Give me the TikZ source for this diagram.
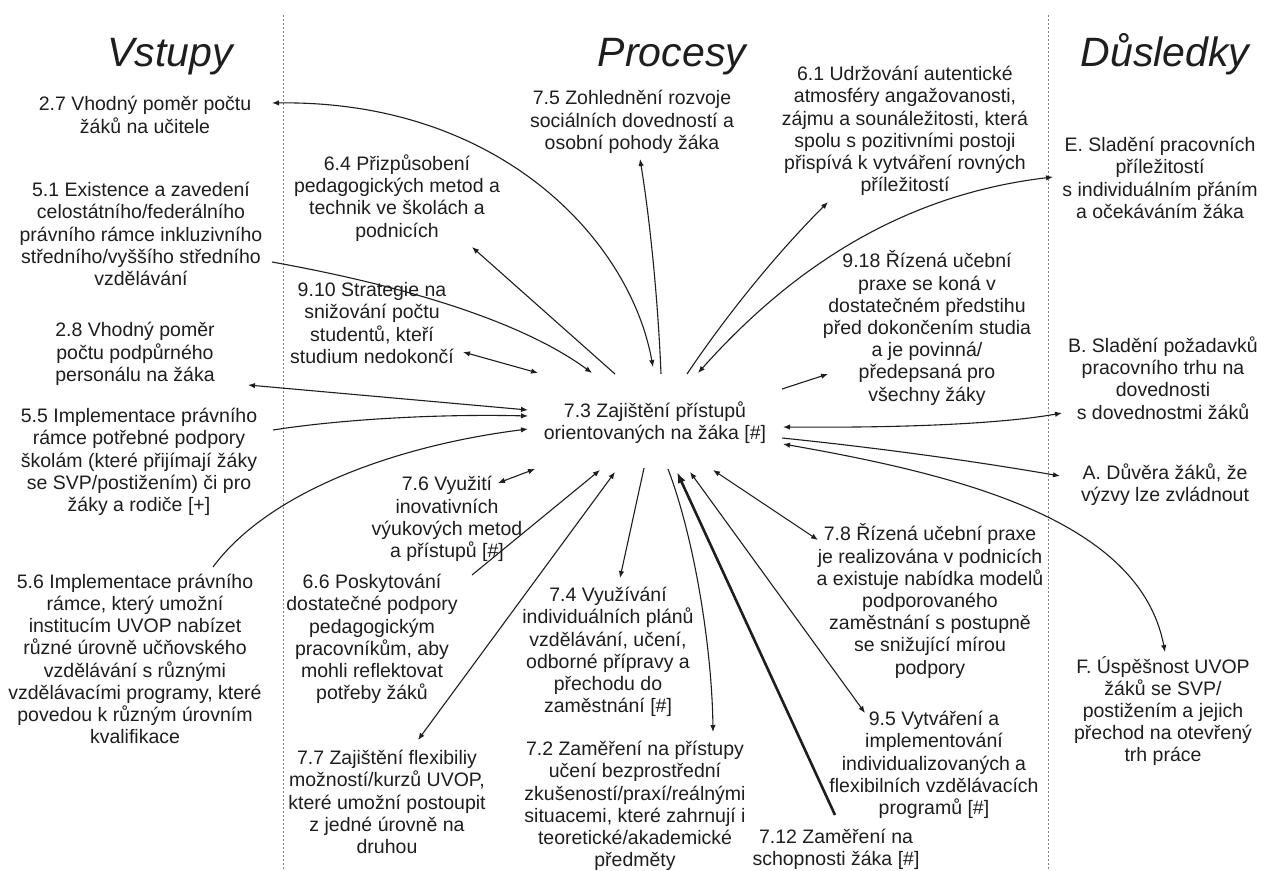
\documentclass[tikz,border=0pt]{standalone}
\usepackage{fontspec}
\setmainfont{Liberation Sans}
\usetikzlibrary{arrows.meta}
\definecolor{ink}{HTML}{1E1E1E}
\newcommand\dfbody{\fontsize{19.5}{22.2}\selectfont}
\newcommand\dftitle{\fontsize{41}{48}\selectfont\itshape}
\begin{document}
\begin{tikzpicture}[x=1pt,y=-1pt,
  txt/.style={align=center, font=\dfbody, inner sep=0pt, text=ink},
  ttl/.style={font=\dftitle, anchor=base, text=ink},
  link/.style={line width=1.1pt, draw=ink},
  onehead/.style={link, -{Latex[length=7pt,width=5.5pt]}},
  twohead/.style={link, {Latex[length=7pt,width=5.5pt]}-{Latex[length=7pt,width=5.5pt]}},
  heavy/.style={line width=2.6pt, draw=ink, -{Latex[length=11pt,width=8pt]}},
  divider/.style={draw=gray, line width=1pt, dash pattern=on 2pt off 2pt}]
\useasboundingbox[fill=white] (0,0) rectangle (1266,870);

% column dividers
\coordinate (d1t) at (283,15);  \coordinate (d1b) at (283,870);
\coordinate (d2t) at (1048,15); \coordinate (d2b) at (1048,870);
\draw[divider] (d1t) -- (d1b);
\draw[divider] (d2t) -- (d2b);

% column headings
\node[ttl] (hin)  at (170,66)  {Vstupy};
\node[ttl] (hpr)  at (672,66)  {Procesy};
\node[ttl] (hout) at (1165,66) {Důsledky};

% inputs
\node[txt] (n27) at (145,115) {2.7 Vhodný poměr počtu\\žáků na učitele};
\node[txt] (n51) at (141,234) {5.1 Existence a zavedení\\celostátního/federálního\\právního rámce inkluzivního\\středního/vyššího středního\\vzdělávání};
\node[txt] (n28) at (135,354) {2.8 Vhodný poměr\\počtu podpůrného\\personálu na žáka};
\node[txt] (n55) at (139,462) {5.5 Implementace právního\\rámce potřebné podpory\\školám (které přijímají žáky\\se SVP/postižením) či pro\\žáky a rodiče [+]};
\node[txt] (n56) at (135,659) {5.6 Implementace právního\\rámce, který umožní\\institucím UVOP nabízet\\různé úrovně učňovského\\vzdělávání s různými\\vzdělávacími programy, které\\povedou k různým úrovním\\kvalifikace};

% processes
\node[txt, minimum width=256pt, minimum height=100pt] (n73) at (655,423) {7.3 Zajištění přístupů\\orientovaných na žáka [\#]};
\node[txt] (n64) at (397,198) {6.4 Přizpůsobení\\pedagogických metod a\\technik ve školách a\\podnicích};
\node[txt] (n75) at (632,122) {7.5 Zohlednění rozvoje\\sociálních dovedností a\\osobní pohody žáka};
\node[txt] (n61) at (905,131) {6.1 Udržování autentické\\atmosféry angažovanosti,\\zájmu a sounáležitosti, která\\spolu s pozitivními postoji\\přispívá k vytváření rovných\\příležitostí};
\node[txt] (n910) at (372,323) {9.10 Strategie na\\snižování počtu\\studentů, kteří\\studium nedokončí};
\node[txt] (n918) at (927,328) {9.18 Řízená učební\\praxe se koná v\\dostatečném předstihu\\před dokončením studia\\a je povinná/\\předepsaná pro\\všechny žáky};
\node[txt] (n76) at (447,519) {7.6 Využití\\inovativních\\výukových metod\\a přístupů [\#]};
\node[txt] (n66) at (372,639) {6.6 Poskytování\\dostatečné podpory\\pedagogickým\\pracovníkům, aby\\mohli reflektovat\\potřeby žáků};
\node[txt] (n77) at (387,802) {7.7 Zajištění flexibiliy\\možností/kurzů UVOP,\\které umožní postoupit\\z jedné úrovně na\\druhou};
\node[txt] (n74) at (608,652) {7.4 Využívání\\individuálních plánů\\vzdělávání, učení,\\odborné přípravy a\\přechodu do\\zaměstnání [\#]};
\node[txt] (n72) at (635,806) {7.2 Zaměření na přístupy\\učení bezprostřední\\zkušeností/praxí/reálnými\\situacemi, které zahrnují i\\teoretické/akademické\\předměty};
\node[txt] (n78) at (930,601) {7.8 Řízená učební praxe\\je realizována v podnicích\\a existuje nabídka modelů\\podporovaného\\zaměstnání s postupně\\se snižující mírou\\podpory};
\node[txt] (n95) at (934,765) {9.5 Vytváření a\\implementování\\individualizovaných a\\flexibilních vzdělávacích\\programů [\#]};
\node[txt] (n712) at (836,849) {7.12 Zaměření na\\schopnosti žáka [\#]};

% outcomes
\node[txt] (nE) at (1160,178) {E. Sladění pracovních\\příležitostí\\s individuálním přáním\\a očekáváním žáka};
\node[txt] (nB) at (1163,378) {B. Sladění požadavků\\pracovního trhu na\\dovednosti\\s dovednostmi žáků};
\node[txt] (nA) at (1165,485) {A. Důvěra žáků, že\\výzvy lze zvládnout};
\node[txt] (nF) at (1163,711) {F. Úspěšnost UVOP\\žáků se SVP/\\postižením a jejich\\přechod na otevřený\\trh práce};

% connector ends beside the text blocks
\coordinate (e27) at (272,103);
\coordinate (e51) at (272,262);
\coordinate (e28) at (248,385);
\coordinate (e55) at (273,430);
\coordinate (e56) at (213,567);
\coordinate (e64) at (472,247);
\coordinate (e75) at (640,159);
\coordinate (e61) at (828,202);
\coordinate (eE)  at (1053,177);
\coordinate (e910) at (463,352);
\coordinate (e918) at (828,374);
\coordinate (eB)  at (1062,413);
\coordinate (eA)  at (1060,476);
\coordinate (eF)  at (1165,652);
\coordinate (e76) at (498,483);
\coordinate (e66) at (472,575);
\coordinate (e77) at (418,740);
\coordinate (e74) at (620,578);
\coordinate (e72) at (713,732);
\coordinate (e712) at (835,815);
\coordinate (e95) at (865,713);
\coordinate (e78) at (818,540);

% connector ends around the central block
\coordinate (c27) at (653,367);
\coordinate (c51) at (592,373);
\coordinate (c28) at (528,410);
\coordinate (c55) at (528,416);
\coordinate (c56) at (528,429);
\coordinate (c64) at (615,374);
\coordinate (c75) at (661,374);
\coordinate (c61) at (687,374);
\coordinate (cE)  at (698,373);
\coordinate (c910) at (538,373);
\coordinate (c918) at (782,389);
\coordinate (cB)  at (783,427);
\coordinate (cA)  at (782,438);
\coordinate (cF)  at (783,444);
\coordinate (c76) at (535,469);
\coordinate (c66) at (600,470);
\coordinate (c77) at (615,472);
\coordinate (c74) at (644,468);
\coordinate (c72) at (668,469);
\coordinate (c712) at (677,472);
\coordinate (c95) at (690,472);
\coordinate (c78) at (713,470);

% connectors
\draw[twohead] (e27) .. controls (500,100) and (630,240) .. (c27);
\draw[onehead] (e51) .. controls (400,285) and (520,320) .. (c51);
\draw[twohead] (e28) -- (c28);
\draw[onehead] (e55) .. controls (350,418) and (450,414) .. (c55);
\draw[onehead] (e56) .. controls (270,490) and (400,445) .. (c56);
\draw[onehead] (c64) -- (e64);
\draw[onehead] (c75) .. controls (658,300) and (650,220) .. (e75);
\draw[onehead] (c61) .. controls (730,310) and (780,250) .. (e61);
\draw[twohead] (cE) .. controls (790,270) and (900,195) .. (eE);
\draw[twohead] (e910) -- (c910);
\draw[onehead] (c918) -- (e918);
\draw[twohead] (cB) .. controls (900,428) and (1000,424) .. (eB);
\draw[onehead] (cA) .. controls (880,448) and (980,462) .. (eA);
\draw[twohead] (cF) .. controls (960,475) and (1140,520) .. (eF);
\draw[twohead] (e76) -- (c76);
\draw[onehead] (e66) -- (c66);
\draw[twohead] (e77) -- (c77);
\draw[onehead] (c74) -- (e74);
\draw[onehead] (c72) .. controls (695,540) and (712,650) .. (e72);
\draw[heavy] (e712) -- (c712);
\draw[twohead] (e95) -- (c95);
\draw[twohead] (e78) -- (c78);
\end{tikzpicture}
\end{document}
